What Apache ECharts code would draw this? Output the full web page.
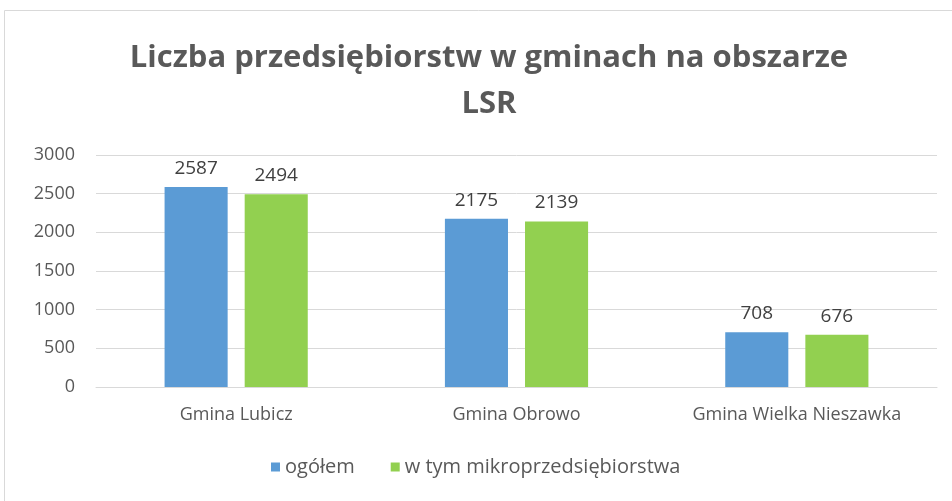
<!DOCTYPE html>
<html><head><meta charset="utf-8">
<script src="https://cdn.jsdelivr.net/npm/echarts@6/dist/echarts.min.js"></script>
<style>html,body{margin:0;padding:0;background:#fff}#c{width:952px;height:501px}</style>
</head><body><div id="c"></div>
<script>
const categories = ['Gmina Lubicz', 'Gmina Obrowo', 'Gmina Wielka Nieszawka'];
const seriesNames = ['ogółem', 'w tym mikroprzedsiębiorstwa'];
const ogolem = [2587, 2175, 708];
const mikro = [2494, 2139, 676];
const yTicks = [0, 500, 1000, 1500, 2000, 2500, 3000];

const chart = echarts.init(document.getElementById('c'));
const font = '"Open Sans", sans-serif';
const lbl = {show: true, position: 'top', distance: 9, color: '#404040', fontSize: 19, fontFamily: font};
chart.setOption({
  animation: false,
  graphic: [{type: 'rect', shape: {x: 4.5, y: 10.5, width: 1000, height: 600}, style: {fill: 'none', stroke: '#d9d9d9', lineWidth: 1}}],
  title: {
    text: 'Liczba przedsiębiorstw w gminach na obszarze\nLSR',
    left: 484, top: 30, textAlign: 'center',
    textStyle: {fontSize: 31, fontWeight: 'bold', color: '#595959', fontFamily: font, lineHeight: 46}
  },
  legend: {
    bottom: 19, left: 266, itemWidth: 9, itemHeight: 9, itemGap: 36, icon: 'rect',
    textStyle: {fontSize: 20, color: '#595959', fontFamily: font}
  },
  grid: {left: 96, top: 155, width: 841, height: 232},
  xAxis: {
    type: 'category', data: categories,
    axisLine: {show: true, lineStyle: {color: '#d9d9d9'}}, axisTick: {show: false},
    axisLabel: {fontSize: 18, color: '#595959', fontFamily: font, margin: 19}
  },
  yAxis: {
    type: 'value', min: yTicks[0], max: yTicks[yTicks.length - 1], interval: 500,
    axisLine: {show: false}, axisTick: {show: false},
    splitLine: {lineStyle: {color: '#d9d9d9'}},
    axisLabel: {fontSize: 18, color: '#595959', fontFamily: font, margin: 21, formatter: v => String(v)}
  },
  series: [
    {name: seriesNames[0], type: 'bar', data: ogolem, barWidth: '22.5%', barGap: '27%', itemStyle: {color: '#5b9bd5'}, label: lbl},
    {name: seriesNames[1], type: 'bar', data: mikro, barWidth: '22.5%', itemStyle: {color: '#92d050'}, label: lbl}
  ]
});
</script></body></html>
